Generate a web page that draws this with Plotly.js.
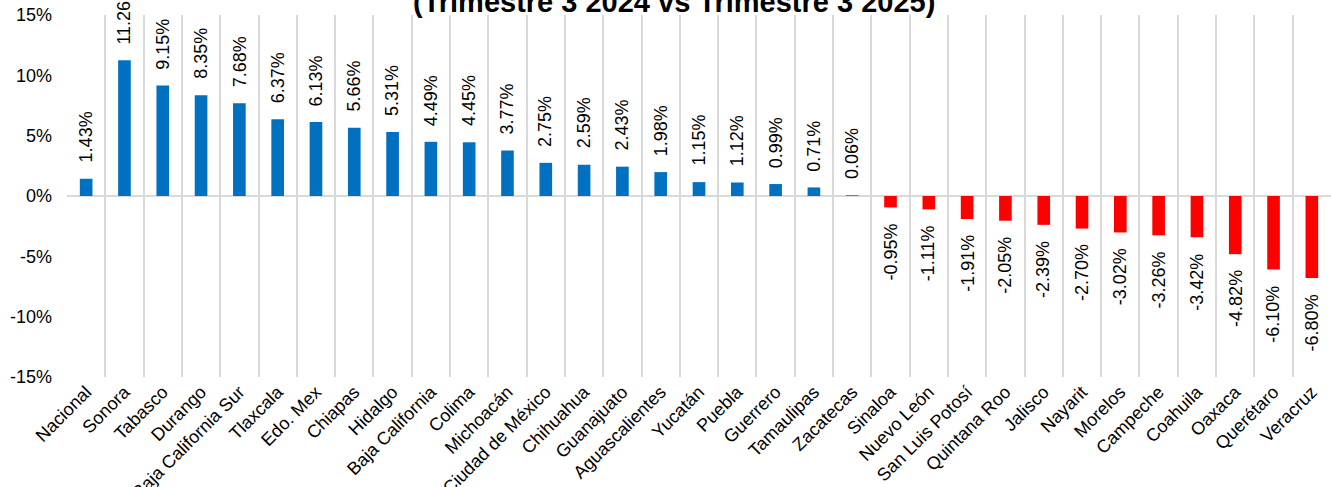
<!DOCTYPE html>
<html>
<head>
<meta charset="utf-8">
<script src="https://cdn.plot.ly/plotly-3.0.1.min.js"></script>
<style>html,body{margin:0;padding:0;background:#fff;}#chart{width:1331px;height:487px;}</style>
</head>
<body>
<div id="chart"></div>
<script>
const categories = ["Nacional","Sonora","Tabasco","Durango","Baja California Sur","Tlaxcala","Edo. Mex","Chiapas","Hidalgo","Baja California","Colima","Michoacán","Ciudad de México","Chihuahua","Guanajuato","Aguascalientes","Yucatán","Puebla","Guerrero","Tamaulipas","Zacatecas","Sinaloa","Nuevo León","San Luis Potosí","Quintana Roo","Jalisco","Nayarit","Morelos","Campeche","Coahuila","Oaxaca","Querétaro","Veracruz"];
const values = [1.43,11.26,9.15,8.35,7.68,6.37,6.13,5.66,5.31,4.49,4.45,3.77,2.75,2.59,2.43,1.98,1.15,1.12,0.99,0.71,0.06,-0.95,-1.11,-1.91,-2.05,-2.39,-2.70,-3.02,-3.26,-3.42,-4.82,-6.10,-6.80];
const yTicks = [-15,-10,-5,0,5,10,15];
const titleText = "(Trimestre 3 2024 vs Trimestre 3 2025)";

const BLUE = "#0070C0", RED = "#FF0000";
const FONT = "Liberation Sans, Arial, sans-serif";

const trace = {
  type: "bar",
  x: categories,
  y: values,
  marker: {color: values.map(v => v >= 0 ? BLUE : RED)},
  hoverinfo: "x+y"
};

const annotations = categories.map((c, i) => ({
  x: c, y: values[i], xref: "x", yref: "y",
  text: values[i].toFixed(2) + "%",
  showarrow: false,
  textangle: -90,
  xanchor: "center",
  yanchor: values[i] >= 0 ? "bottom" : "top",
  yshift: values[i] >= 0 ? 14 : -14,
  font: {family: FONT, size: 18, color: "#000"}
}));

annotations.push({
  text: "<b>" + titleText + "</b>",
  xref: "paper", yref: "paper",
  x: 0.48, y: 1, yshift: -5,
  xanchor: "center", yanchor: "bottom",
  showarrow: false,
  font: {family: FONT, size: 29, color: "#000"}
});

const layout = {
  width: 1331, height: 487,
  margin: {l: 67, r: 0, t: 15, b: 110, pad: 0},
  paper_bgcolor: "#fff", plot_bgcolor: "#fff",
  showlegend: false,
  bargap: 0.67,
  font: {family: FONT, color: "#000"},
  xaxis: {
    type: "category",
    tickson: "boundaries",
    showgrid: true, gridcolor: "#D9D9D9", gridwidth: 2,
    ticks: "", tickangle: -45,
    tickfont: {family: FONT, size: 18, color: "#000"},
    showline: false, zeroline: false,
    ticklabelstandoff: 0
  },
  yaxis: {
    range: [-15, 15],
    tickvals: yTicks,
    ticktext: yTicks.map(v => v + "%"),
    showgrid: false,
    zeroline: true, zerolinecolor: "#D9D9D9", zerolinewidth: 2,
    showline: false, ticks: "",
    tickfont: {family: FONT, size: 18, color: "#000"},
    ticklabelstandoff: 14
  },
  annotations: annotations
};

Plotly.newPlot("chart", [trace], layout, {displayModeBar: false, staticPlot: true});
</script>
</body>
</html>
